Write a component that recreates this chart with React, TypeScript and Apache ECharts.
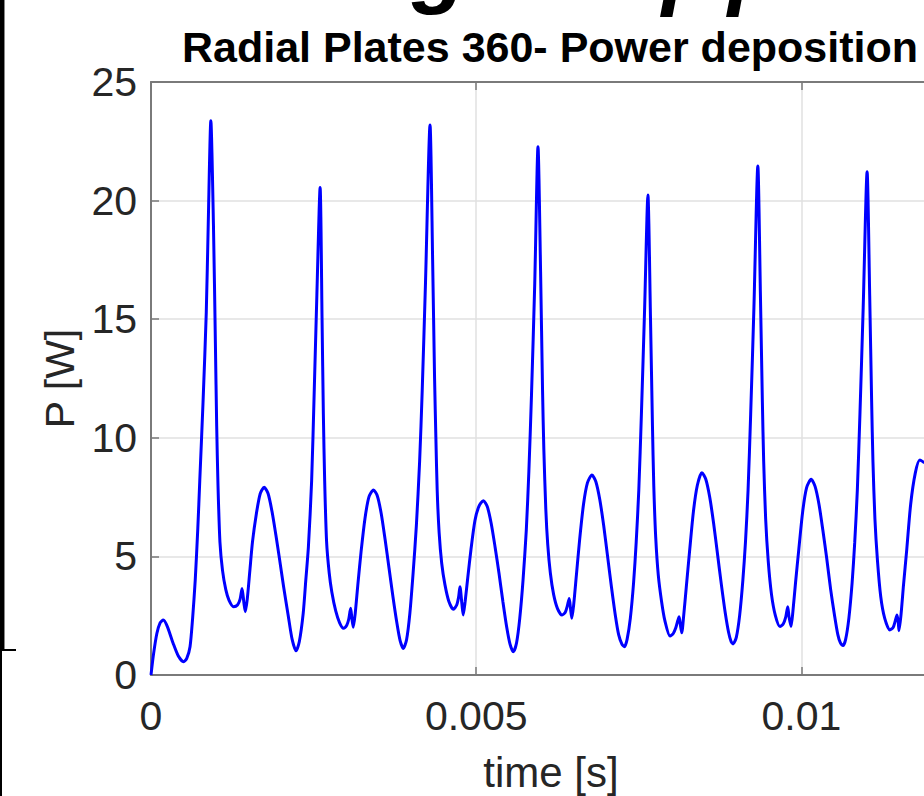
import React, { useEffect, useRef } from "react";
import * as echarts from "echarts";

const titleText = "Radial Plates 360- Power deposition";
const xName = "time [s]";
const yName = "P [W]";
const xTicks = [0, 0.005, 0.01];
const xLimit = 0.0123;
const yTicks = [0, 5, 10, 15, 20, 25];

const timeS = [
  0, 0.00004, 0.00009, 0.00014, 0.00019, 0.00025, 0.00034, 0.00042, 0.0005, 0.00055,
  0.0006, 0.00064, 0.00068, 0.00072, 0.00075, 0.0008, 0.00085, 0.00088, 0.00092, 0.00096,
  0.00099, 0.00101, 0.00103, 0.00106, 0.0011, 0.00115, 0.0012, 0.00127, 0.00133, 0.00137,
  0.0014, 0.00143, 0.00145, 0.00148, 0.00152, 0.00156, 0.00162, 0.00168, 0.00174, 0.0018,
  0.00186, 0.00192, 0.00197, 0.00204, 0.00211, 0.00217, 0.00223, 0.00228, 0.00234, 0.00238,
  0.00242, 0.00247, 0.00251, 0.00255, 0.0026, 0.00263, 0.00265, 0.00267, 0.0027, 0.00274,
  0.00278, 0.00284, 0.0029, 0.00296, 0.00301, 0.00304, 0.00307, 0.00309, 0.00311, 0.00314,
  0.00318, 0.00323, 0.00329, 0.00335, 0.00342, 0.00348, 0.00354, 0.0036, 0.00366, 0.00372,
  0.00378, 0.00383, 0.00388, 0.00393, 0.00398, 0.00403, 0.00408, 0.00413, 0.00417, 0.00422,
  0.00429, 0.00433, 0.00436, 0.00438, 0.0044, 0.00443, 0.00447, 0.00452, 0.00458, 0.00465,
  0.0047, 0.00473, 0.00475, 0.00478, 0.0048, 0.00483, 0.00487, 0.00492, 0.00498, 0.00504,
  0.00511, 0.00517, 0.00523, 0.00529, 0.00535, 0.00541, 0.00547, 0.00552, 0.00557, 0.00562,
  0.00567, 0.00572, 0.00577, 0.00581, 0.00585, 0.0059, 0.00595, 0.00599, 0.00602, 0.00604,
  0.00607, 0.0061, 0.00614, 0.00619, 0.00625, 0.00632, 0.00637, 0.0064, 0.00643, 0.00645,
  0.00647, 0.0065, 0.00654, 0.00659, 0.00665, 0.00671, 0.00678, 0.00684, 0.0069, 0.00696,
  0.00702, 0.00708, 0.00714, 0.00719, 0.00724, 0.00728, 0.00732, 0.00737, 0.00742, 0.00746,
  0.0075, 0.00754, 0.00759, 0.00764, 0.00768, 0.00771, 0.00773, 0.00776, 0.0078, 0.00785,
  0.0079, 0.00798, 0.00803, 0.00807, 0.0081, 0.00812, 0.00814, 0.00816, 0.00819, 0.00823,
  0.00828, 0.00834, 0.0084, 0.00847, 0.00853, 0.00859, 0.00865, 0.00871, 0.00877, 0.00883,
  0.00888, 0.00892, 0.00895, 0.009, 0.00905, 0.0091, 0.00914, 0.00918, 0.00922, 0.00927,
  0.00933, 0.00937, 0.0094, 0.00942, 0.00945, 0.00949, 0.00954, 0.0096, 0.00967, 0.00972,
  0.00976, 0.00979, 0.00981, 0.00984, 0.00987, 0.00991, 0.00996, 0.01002, 0.01008, 0.01015,
  0.01021, 0.01027, 0.01033, 0.01039, 0.01045, 0.01051, 0.01056, 0.0106, 0.01064, 0.01068,
  0.01073, 0.01078, 0.01082, 0.01086, 0.0109, 0.01095, 0.01101, 0.01105, 0.01108, 0.0111,
  0.01113, 0.01117, 0.01122, 0.01128, 0.01136, 0.01141, 0.01144, 0.01147, 0.01149, 0.0115,
  0.01153, 0.01157, 0.01162, 0.01168, 0.01175, 0.01182, 0.01189,
];

const powerW = [
  0, 0.9, 1.75, 2.2, 2.32, 2.05, 1.34, 0.8, 0.56, 0.7,
  1.19, 2.4, 4.0, 6.2, 8.2, 11.5, 15.3, 19.0, 23.37, 19.0,
  14.0, 10.5, 8.0, 5.6, 4.4, 3.6, 3.15, 2.88, 2.95, 3.2,
  3.65, 3.0, 2.67, 3.2, 4.4, 5.6, 6.8, 7.65, 7.91, 7.65,
  6.9, 5.9, 5.0, 3.7, 2.5, 1.5, 1.02, 1.4, 2.6, 4.0,
  5.4, 8.2, 12.0, 16.0, 20.55, 15.0, 11.0, 8.2, 5.6, 4.3,
  3.5, 2.7, 2.2, 1.97, 2.1, 2.35, 2.81, 2.35, 2.01, 2.6,
  3.8, 5.2, 6.6, 7.5, 7.8, 7.55, 6.8, 5.7, 4.5, 3.3,
  2.2, 1.45, 1.12, 1.5, 2.6, 4.3, 6.3, 9.0, 12.0, 16.5,
  23.19, 17.5, 12.5, 10.0, 7.8, 6.0, 4.7, 3.8, 3.1, 2.77,
  2.95, 3.3, 3.72, 3.0, 2.53, 3.1, 4.1, 5.3, 6.5, 7.1,
  7.35, 7.1, 6.4, 5.4, 4.3, 3.1, 2.0, 1.3, 0.98, 1.35,
  2.4, 4.0, 6.1, 8.6, 11.8, 16.5, 22.27, 17.0, 12.0, 9.5,
  7.0, 5.5, 4.3, 3.4, 2.8, 2.53, 2.65, 2.9, 3.23, 2.8,
  2.39, 3.0, 4.2, 5.7, 7.2, 8.1, 8.43, 8.15, 7.4, 6.3,
  5.0, 3.7, 2.5, 1.7, 1.3, 1.19, 1.5, 2.4, 3.9, 5.6,
  7.8, 11.0, 15.5, 20.24, 15.0, 10.5, 8.0, 5.8, 4.2, 3.1,
  2.3, 1.64, 1.75, 2.0, 2.3, 2.46, 2.1, 1.78, 2.5, 3.7,
  5.2, 6.9, 8.0, 8.53, 8.25, 7.5, 6.4, 5.1, 3.8, 2.6,
  1.8, 1.4, 1.31, 1.6, 2.5, 4.0, 5.6, 7.8, 11.0, 15.5,
  21.46, 16.0, 11.5, 9.0, 6.6, 4.8, 3.4, 2.5, 2.04, 2.15,
  2.45, 2.88, 2.45, 2.04, 2.7, 3.9, 5.3, 6.9, 7.9, 8.25,
  7.95, 7.2, 6.1, 4.9, 3.6, 2.5, 1.7, 1.35, 1.24, 1.5,
  2.4, 3.9, 5.6, 7.8, 11.0, 15.5, 21.22, 16.0, 11.5, 9.0,
  6.6, 4.8, 3.3, 2.4, 1.9, 2.0, 2.25, 2.53, 2.2, 1.87,
  2.5, 3.8, 5.3, 7.2, 8.5, 9.06, 8.95,
];

const FONT = '"Liberation Sans", Arial, Helvetica, sans-serif';
const AXIS_COLOR = "#7a7a7a";
const LABEL_COLOR = "#262626";

export default function App() {
  const ref = useRef<HTMLDivElement>(null);

  useEffect(() => {
    if (!ref.current) return;
    const chart = echarts.init(ref.current, undefined, { renderer: "svg" });
    const data = timeS.map((t, i) => [t, powerW[i]]);
    const xMin = xTicks[0];
    const xInt = xTicks[1] - xTicks[0];
    const yMin = yTicks[0];
    const yMax = yTicks[yTicks.length - 1];
    const yInt = yTicks[1] - yTicks[0];

    chart.setOption({
      animation: false,
      backgroundColor: "#ffffff",
      title: {
        text: titleText,
        left: 550,
        top: 25,
        padding: 0,
        textAlign: "center",
        textStyle: { fontFamily: FONT, fontSize: 43, fontWeight: "bold", color: "#000" },
      },
      grid: { left: 151, top: 82, width: 800, height: 593, containLabel: false, outerBoundsMode: "none" },
      xAxis: [
        {
          type: "value",
          position: "bottom",
          min: xMin,
          max: xLimit,
          interval: xInt,
          name: xName,
          nameLocation: "middle",
          nameGap: 76,
          nameTextStyle: { fontFamily: FONT, fontSize: 42, color: LABEL_COLOR },
          axisLine: { show: true, onZero: false, lineStyle: { color: AXIS_COLOR, width: 2 } },
          axisTick: { show: true, inside: true, length: 8, lineStyle: { color: AXIS_COLOR, width: 1.5 } },
          axisLabel: { fontFamily: FONT, fontSize: 41, color: LABEL_COLOR, margin: 20, showMaxLabel: false },
          splitLine: { show: true, lineStyle: { color: "#e0e0e0", width: 1.5 } },
        },
        {
          type: "value",
          position: "top",
          min: xMin,
          max: xLimit,
          interval: xInt,
          axisLine: { show: true, onZero: false, lineStyle: { color: AXIS_COLOR, width: 2 } },
          axisTick: { show: true, inside: true, length: 8, lineStyle: { color: AXIS_COLOR, width: 1.5 } },
          axisLabel: { show: false },
          splitLine: { show: false },
        },
      ],
      yAxis: {
        type: "value",
        min: yMin,
        max: yMax,
        interval: yInt,
        name: yName,
        nameLocation: "middle",
        nameGap: 66,
        nameTextStyle: { fontFamily: FONT, fontSize: 41, color: LABEL_COLOR },
        axisLine: { show: true, lineStyle: { color: AXIS_COLOR, width: 2 } },
        axisTick: { show: true, inside: true, length: 8, lineStyle: { color: AXIS_COLOR, width: 1.5 } },
        axisLabel: { fontFamily: FONT, fontSize: 41, color: LABEL_COLOR, margin: 14 },
        splitLine: { show: true, lineStyle: { color: "#e0e0e0", width: 1.5 } },
      },
      series: [
        {
          type: "line",
          xAxisIndex: 0,
          data,
          showSymbol: false,
          smooth: 0.25,
          lineStyle: { color: "#0000ff", width: 3 },
          itemStyle: { color: "#0000ff" },
          z: 5,
        },
      ],
      graphic: [
        { type: "rect", shape: { x: 0, y: 0, width: 4, height: 650 }, style: { fill: "#000" } },
        { type: "rect", shape: { x: 4, y: 0, width: 1, height: 650 }, style: { fill: "#888" } },
        { type: "rect", shape: { x: 0, y: 649, width: 16, height: 2 }, style: { fill: "#000" } },
        { type: "rect", shape: { x: 0, y: 650, width: 2, height: 146 }, style: { fill: "#000" } },
        {
          type: "text",
          x: 412,
          y: 10,
          style: { text: "g", fontFamily: FONT, fontSize: 90, fontWeight: "bold", fontStyle: "italic", fill: "#000", textAlign: "left", textVerticalAlign: "bottom" },
        },
        {
          type: "text",
          x: 662,
          y: 12,
          style: { text: "p", fontFamily: FONT, fontSize: 90, fontWeight: "bold", fontStyle: "italic", fill: "#000", textAlign: "left", textVerticalAlign: "bottom" },
        },
        {
          type: "text",
          x: 728,
          y: 12,
          style: { text: "p", fontFamily: FONT, fontSize: 90, fontWeight: "bold", fontStyle: "italic", fill: "#000", textAlign: "left", textVerticalAlign: "bottom" },
        },
      ],
    });
    return () => chart.dispose();
  }, []);

  return (
    <div
      style={{ position: "fixed", left: 0, top: 0, width: 924, height: 796, overflow: "hidden", background: "#fff" }}
    >
      <div ref={ref} style={{ position: "absolute", left: 0, top: 0, width: 1130, height: 796 }} />
    </div>
  );
}
